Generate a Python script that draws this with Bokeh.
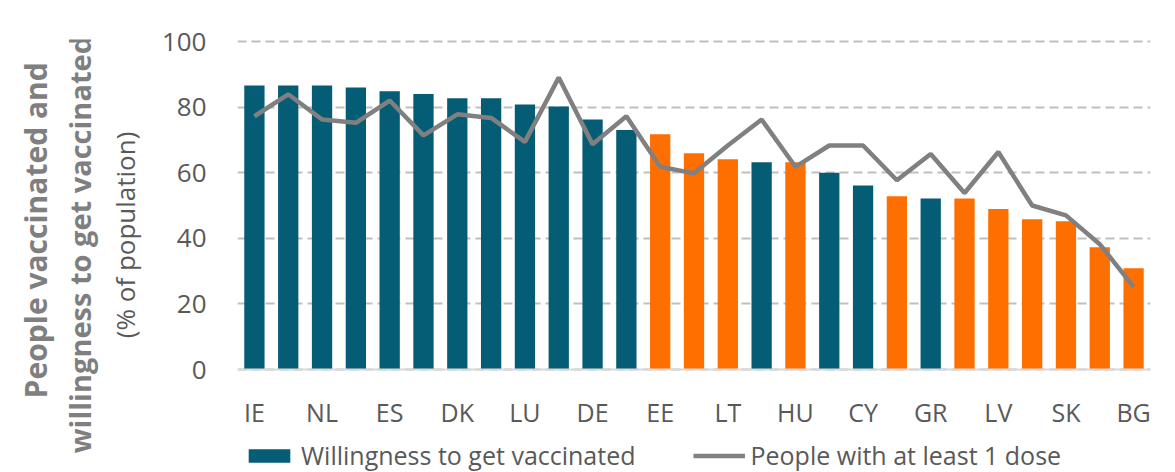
from math import pi
from bokeh.plotting import figure
from bokeh.layouts import row
from bokeh.models import (ColumnDataSource, Range1d, FixedTicker, Legend, LegendItem, Label)
from bokeh.embed import file_html
from bokeh.resources import INLINE

countries = ["IE", "PT", "NL", "BE", "ES", "FI", "DK", "IT", "LU", "MT", "DE", "FR", "EE", "AT",
             "LT", "SE", "HU", "PL", "CY", "CZ", "GR", "SI", "LV", "HR", "SK", "RO", "BG"]
willingness = [86.6, 86.6, 86.6, 86.0, 84.8, 84.0, 82.7, 82.7, 80.8, 80.2, 76.2, 73.0, 71.7, 65.9,
               64.1, 63.2, 63.2, 60.0, 56.1, 52.8, 52.1, 52.1, 48.9, 45.8, 45.2, 37.3, 30.9]
at_least_one_dose = [77.2, 83.9, 76.2, 75.2, 82.0, 71.4, 77.8, 76.7, 69.4, 89.0, 68.7, 77.2, 61.8, 59.8,
                     68.3, 76.2, 61.8, 68.3, 68.3, 57.7, 65.7, 53.8, 66.3, 50.0, 47.0, 38.2, 25.2]
bar_group = ["A"] * 12 + ["B", "B", "B", "A", "B", "A", "A", "B", "A"] + ["B"] * 6
y_ticks = [0, 20, 40, 60, 80, 100]
title_lines = ["People vaccinated and", "willingness to get vaccinated*", "(% of population)"]

TEAL = "#045C75"
ORANGE = "#FF6F00"
group_colors = {"A": TEAL, "B": ORANGE}
FONT = "Open Sans"
TXT = "#595959"
TITLE_C = "#7F7F7F"

H = 472
TITLE_W = 148
MAIN_W = 1175 - TITLE_W

xs = list(range(1, len(countries) + 1))
src = ColumnDataSource(dict(
    x=xs, w=willingness, d=at_least_one_dose,
    color=[group_colors[g] for g in bar_group],
))

# ---- main chart: frame runs to the bottom of the canvas so the legend fits inside it
p = figure(width=MAIN_W, height=H, x_range=Range1d(0.5, len(countries) + 0.5),
           y_range=Range1d(-31.4, 100.61), output_backend="svg", toolbar_location=None,
           min_border_left=89, min_border_right=25, min_border_top=39, min_border_bottom=0)
p.outline_line_color = None
p.background_fill_color = "white"
p.border_fill_color = "white"

p.xgrid.visible = False
p.ygrid.ticker = FixedTicker(ticks=y_ticks)
p.ygrid.grid_line_color = "#BFBFBF"
p.ygrid.grid_line_dash = "9 5"
p.ygrid.grid_line_width = 2

bars = p.vbar(x="x", top="w", bottom=0, width=0.6, fill_color="color", line_color=None, source=src)
line = p.line(x="x", y="d", line_color="#808080", line_width=4.5, source=src)

xa = p.xaxis[0]
xa.fixed_location = 0
xa.ticker = FixedTicker(ticks=xs[::2])
xa.major_label_overrides = {i: countries[i - 1] for i in xs[::2]}
xa.major_tick_line_color = None
xa.minor_tick_line_color = None
xa.axis_line_color = "#D9D9D9"
xa.axis_line_width = 2
xa.major_label_text_font = FONT
xa.major_label_text_font_size = "25px"
xa.major_label_text_color = TXT
xa.major_label_standoff = 19

ya = p.yaxis[0]
ya.ticker = FixedTicker(ticks=y_ticks)
ya.major_tick_line_color = None
ya.minor_tick_line_color = None
ya.axis_line_color = None
ya.major_label_text_font = FONT
ya.major_label_text_font_size = "26px"
ya.major_label_text_color = TXT
ya.major_label_standoff = 25

legend = Legend(items=[
    LegendItem(label="Willingness to get vaccinated", renderers=[bars], index=0),
    LegendItem(label="People with at least 1 dose", renderers=[line]),
], orientation="horizontal", location=(6, 0), border_line_color=None,
    background_fill_alpha=0, label_text_font=FONT, label_text_font_size="25px",
    label_text_color=TXT, glyph_width=52, glyph_height=17, spacing=57,
    padding=0, margin=0, label_standoff=6)
p.add_layout(legend)

# ---- rotated y title in its own narrow figure
t = figure(width=TITLE_W, height=H, x_range=Range1d(0, TITLE_W), y_range=Range1d(0, H),
           output_backend="svg", toolbar_location=None, x_axis_type=None, y_axis_type=None,
           min_border=0, min_border_left=0, min_border_right=0, min_border_top=0, min_border_bottom=0)
t.outline_line_color = None
t.xgrid.visible = False
t.ygrid.visible = False
t.background_fill_color = "white"
t.border_fill_color = "white"

t.add_layout(Label(x=35, y=264, text=title_lines[0], angle=pi / 2, text_align="center",
                   text_baseline="middle", text_font=FONT, text_font_style="bold",
                   text_font_size="30px", text_color=TITLE_C))
t.add_layout(Label(x=79, y=257, text=title_lines[1], angle=pi / 2, text_align="center",
                   text_baseline="middle", text_font=FONT, text_font_style="bold",
                   text_font_size="29px", text_color=TITLE_C))
t.add_layout(Label(x=124, y=259, text=title_lines[2], angle=pi / 2, text_align="center",
                   text_baseline="middle", text_font=FONT, text_font_size="26px",
                   text_color=TXT))

layout = row(t, p, spacing=0)
open("out.html", "w").write(file_html(layout, INLINE))
